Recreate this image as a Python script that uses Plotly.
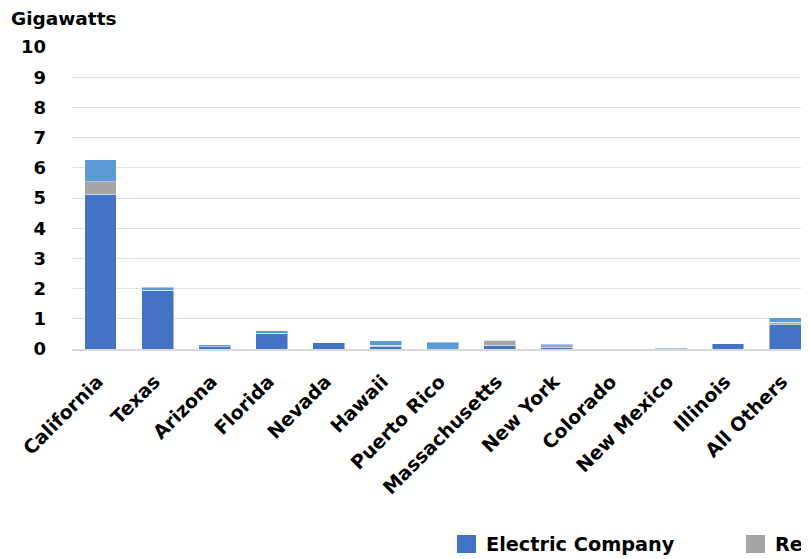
import plotly.graph_objects as go

states = ["California", "Texas", "Arizona", "Florida", "Nevada", "Hawaii", "Puerto Rico",
          "Massachusetts", "New York", "Colorado", "New Mexico", "Illinois", "All Others"]
electric_company = [5.12, 1.94, 0.08, 0.52, 0.20, 0.09, 0.00, 0.12, 0.06, 0.00, 0.00, 0.17, 0.80]
residential      = [0.42, 0.00, 0.00, 0.00, 0.00, 0.03, 0.00, 0.17, 0.08, 0.00, 0.00, 0.00, 0.09]
commercial       = [0.72, 0.10, 0.06, 0.08, 0.01, 0.15, 0.23, 0.01, 0.03, 0.00, 0.02, 0.01, 0.14]
y_ticks = [0, 1, 2, 3, 4, 5, 6, 7, 8, 9, 10]

series = [
    ("Electric Company", electric_company, "#4472C4"),
    ("Residential", residential, "#A5A5A5"),
    ("Commercial & Industrial", commercial, "#5B9BD5"),
]

FONT = "DejaVu Sans"
fig = go.Figure()
for name, vals, color in series:
    fig.add_trace(go.Bar(x=states, y=vals, name=name, marker_color=color,
                         marker_line=dict(color="rgba(255,255,255,0.45)", width=1),
                         showlegend=False))

# page has an 8px body margin, so figure coordinates = screen - 8
L, R, T, B = 64, 0, 39, 210
W, H = 801, 551
pw, ph = W - L - R, H - T - B
def px(x):
    return (x - L) / pw
def py(y):
    return (H - B - y) / ph

leg_x = [449, 738, 1010]
leg_cy = 536
for (name, vals, color), lx in zip(series, leg_x):
    fig.add_shape(type="rect", xref="paper", yref="paper",
                  x0=px(lx), x1=px(lx + 19), y0=py(leg_cy - 9), y1=py(leg_cy + 9),
                  fillcolor=color, line=dict(width=0))
    fig.add_annotation(xref="paper", yref="paper", x=px(lx + 27), y=py(leg_cy),
                       xanchor="left", yanchor="middle", text=f"<b>{name}</b>",
                       showarrow=False, font=dict(family=FONT, size=19.3, color="#000000"))

fig.add_annotation(xref="paper", yref="paper", x=px(1), y=py(10.5), xanchor="left",
                   yanchor="middle", text="<b>Gigawatts</b>", showarrow=False,
                   font=dict(family=FONT, size=18.5, color="#000000"))

fig.update_layout(
    width=W, height=H, barmode="stack", bargap=0.44,
    margin=dict(l=L, r=R, t=T, b=B),
    plot_bgcolor="white", paper_bgcolor="white",
    font=dict(family=FONT, size=18, color="#000000"),
    xaxis=dict(range=[-0.5, 12.42], tickangle=-45, showline=True, linecolor="#D9D9D9",
               linewidth=2, ticks="", ticklabelstandoff=12, ticklabelshift=-3,
               tickfont=dict(family=FONT, size=19, weight="bold")),
    yaxis=dict(range=[0, 10], tickvals=y_ticks, showgrid=True, gridcolor="#E0E0E0",
               gridwidth=1.3, zeroline=False, ticks="", ticklabelstandoff=25,
               tickfont=dict(family=FONT, size=18, weight="bold")),
)

fig.write_html("out.html")
